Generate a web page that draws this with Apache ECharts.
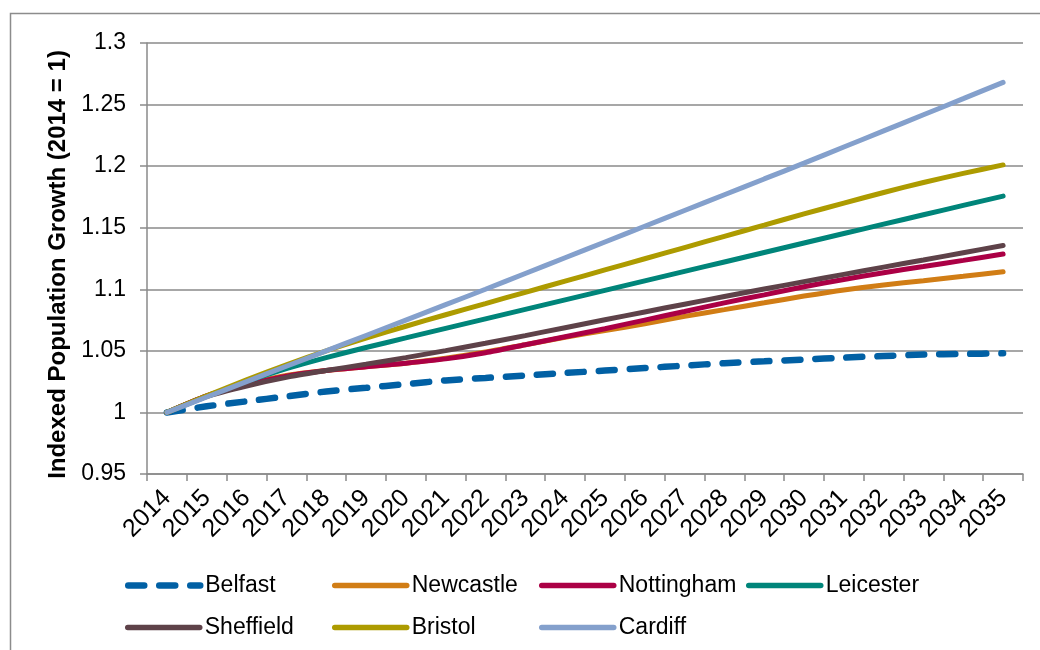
<!DOCTYPE html>
<html>
<head>
<meta charset="utf-8">
<script src="https://cdn.jsdelivr.net/npm/echarts@6/dist/echarts.min.js"></script>
<style>
html,body{margin:0;padding:0;background:#fff;}
#chart{width:1040px;height:650px;}
</style>
</head>
<body>
<div id="chart"></div>
<script>
const years = ['2014','2015','2016','2017','2018','2019','2020','2021','2022','2023','2024','2025','2026','2027','2028','2029','2030','2031','2032','2033','2034','2035'];
const yTicks = [0.95, 1.3, 0.05]; // min, max, interval

const belfast    = [1.000,1.005,1.009,1.013,1.017,1.020,1.023,1.026,1.028,1.030,1.032,1.034,1.036,1.038,1.040,1.0415,1.043,1.0445,1.0458,1.047,1.0475,1.048];
const newcastle  = [1.000,1.0135,1.023,1.030,1.034,1.037,1.040,1.044,1.049,1.055,1.061,1.0665,1.072,1.078,1.0835,1.089,1.0945,1.0995,1.1035,1.107,1.1105,1.1142];
const nottingham = [1.000,1.0135,1.0225,1.0295,1.034,1.037,1.040,1.0435,1.0485,1.055,1.0615,1.068,1.075,1.082,1.089,1.0955,1.102,1.108,1.1135,1.1185,1.1235,1.1286];
const leicester  = [1.000,1.013,1.025,1.0355,1.0445,1.0527,1.0605,1.0683,1.0760,1.0837,1.0914,1.0991,1.1068,1.1145,1.1222,1.1299,1.1376,1.1453,1.1529,1.1605,1.1681,1.1757];
const sheffield  = [1.000,1.013,1.0215,1.0285,1.0340,1.0392,1.0445,1.0502,1.0562,1.0624,1.0688,1.0752,1.0816,1.0879,1.0941,1.1002,1.1062,1.1121,1.1180,1.1238,1.1297,1.1356];
const bristol    = [1.000,1.0135,1.0265,1.0387,1.0500,1.0603,1.0700,1.0793,1.0884,1.0975,1.1066,1.1157,1.1248,1.1339,1.1430,1.1521,1.1612,1.1700,1.1786,1.1867,1.1941,1.2010];
const cardiff    = [1.000,1.0125,1.025,1.0375,1.0500,1.0625,1.0750,1.0875,1.1000,1.1128,1.1256,1.1384,1.1512,1.1640,1.1768,1.1896,1.2024,1.2155,1.2286,1.2417,1.2548,1.268];

const seriesNames = ['Belfast','Newcastle','Nottingham','Leicester','Sheffield','Bristol','Cardiff'];
const seriesData = [belfast, newcastle, nottingham, leicester, sheffield, bristol, cardiff];
const colors = ['#0160a4','#d17d15','#ab0045','#00857a','#5e4249','#ad9b00','#84a0cc'];

const chart = echarts.init(document.getElementById('chart'), null, {renderer:'canvas'});
const FONT = '"Liberation Sans", Arial, sans-serif';
const gridColor = '#8a8a8a';

const series = seriesNames.map((name, i) => ({
  name: name,
  type: 'line',
  data: seriesData[i],
  smooth: 0.25,
  symbol: 'none',
  showSymbol: false,
  color: colors[i],
  lineStyle: i === 0
    ? {color: colors[i], width: 6.5, type: [16, 15], cap: 'round'}
    : {color: colors[i], width: 5, cap: 'round'},
  z: 2 + i
}));

// legend grid: 4 columns, 2 rows
const legendCols = [120, 327, 534, 741];
const legendRows = [569, 611];
const legends = seriesNames.map((name, i) => ({
  data: [name],
  left: legendCols[i % 4],
  top: legendRows[Math.floor(i / 4)],
  orient: 'horizontal',
  itemWidth: 72,
  itemHeight: 22,
  itemGap: 5,
  itemStyle: {opacity: 0},
  textStyle: {fontFamily: FONT, fontSize: 23, color: '#000'},
  lineStyle: {width: i === 0 ? 6.5 : 5.5, cap: 'round'}
}));

chart.setOption({
  backgroundColor: '#fff',
  animation: false,
  textStyle: {fontFamily: FONT},
  graphic: [{
    type: 'rect',
    shape: {x: 10.5, y: 13.5, width: 1200, height: 800},
    style: {fill: 'none', stroke: '#8c8c8c', lineWidth: 1.5},
    silent: true
  }],
  grid: {left: 147, right: 17, top: 43, bottom: 176, containLabel: false},
  xAxis: {
    type: 'category',
    data: years,
    boundaryGap: true,
    axisLine: {lineStyle: {color: gridColor, width: 1.5}},
    axisTick: {show: true, length: 7, lineStyle: {color: gridColor, width: 1.5}},
    axisLabel: {interval: 0, rotate: 45, margin: 20, fontFamily: FONT, fontSize: 25, color: '#000'},
    splitLine: {show: false}
  },
  yAxis: {
    type: 'value',
    min: yTicks[0],
    max: yTicks[1],
    interval: yTicks[2],
    name: 'Indexed Population Growth (2014 = 1)',
    nameLocation: 'middle',
    nameGap: 52,
    nameTextStyle: {fontFamily: FONT, fontSize: 24, fontWeight: 'bold', color: '#000', padding: [0, 12, 0, 0]},
    axisLine: {show: true, lineStyle: {color: gridColor, width: 1.5}},
    axisTick: {show: true, length: 7, lineStyle: {color: gridColor, width: 1.5}},
    axisLabel: {margin: 21, fontFamily: FONT, fontSize: 23, color: '#000',
      formatter: v => String(+v.toFixed(2))},
    splitLine: {show: true, lineStyle: {color: gridColor, width: 1.5}}
  },
  legend: legends,
  series: series
});
</script>
</body>
</html>
